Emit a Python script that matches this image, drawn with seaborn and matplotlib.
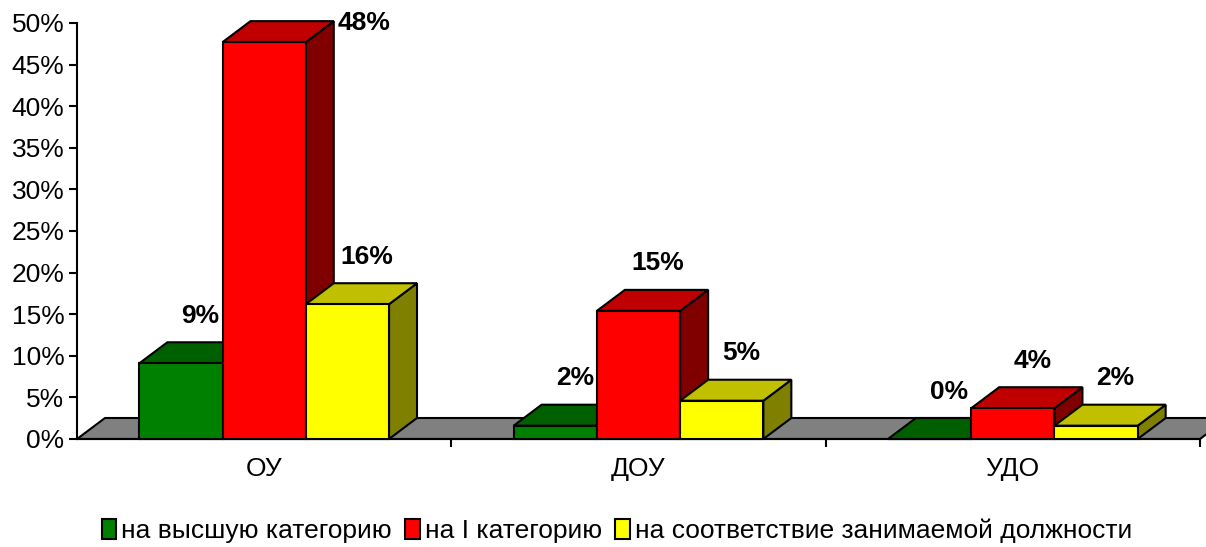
import matplotlib
matplotlib.use("Agg")
import matplotlib.pyplot as plt
import seaborn as sns
import pandas as pd
from matplotlib.patches import Polygon, Patch
from matplotlib.ticker import FuncFormatter, FixedLocator

# data
categories = ["ОУ", "ДОУ", "УДО"]
series = ["на высшую категорию", "на I категорию", "на соответствие занимаемой должности"]
vysshaya = [0.091, 0.016, 0.0]
pervaya = [0.477, 0.154, 0.037]
sootv = [0.162, 0.046, 0.016]

front_colors = ["#008000", "#FF0000", "#FFFF00"]
top_colors = ["#006000", "#C00000", "#C0C000"]
side_colors = ["#004000", "#800000", "#808000"]

rows = []
for s, vals in zip(series, [vysshaya, pervaya, sootv]):
    for c, v in zip(categories, vals):
        rows.append({"Категория": c, "Доля": v, "Серия": s})
df = pd.DataFrame(rows)

sns.set_style("white")
plt.rcParams["font.family"] = ["Liberation Sans", "DejaVu Sans"]
plt.rcParams["text.color"] = "black"
plt.rcParams["xtick.color"] = "black"
plt.rcParams["ytick.color"] = "black"
plt.rcParams["axes.labelcolor"] = "black"
FS = 19

fig = plt.figure(figsize=(12.06, 5.47), dpi=100)
ax = fig.add_axes([77 / 1206, 108 / 547, 1123 / 1206, 416 / 547])

sns.barplot(
    data=df, x="Категория", y="Доля", hue="Серия",
    order=categories, hue_order=series, palette=front_colors,
    saturation=1, width=0.667, edgecolor="black", linewidth=1.5,
    legend=False, ax=ax,
)
bars = list(ax.patches)

ax.set_xlim(-0.5, 2.5)
ax.set_ylim(0, 0.5)

# depth of the 3D effect in pixels -> data units
bbox = ax.get_window_extent()
dx = 28 / bbox.width * 3.0
dy = 21 / bbox.height * 0.5

# floor
floor = Polygon([(-0.5, 0), (2.5, 0), (2.5 + dx, dy), (-0.5 + dx, dy)],
                closed=True, facecolor="#808080", edgecolor="black",
                linewidth=1.5, zorder=1, clip_on=False)
ax.add_patch(floor)

# 3D faces, drawn left to right so later bars cover earlier ones
hue_of = {}
for i in range(len(series)):
    for j in range(len(categories)):
        hue_of[id(bars[i * len(categories) + j])] = i
bars_sorted = sorted(bars, key=lambda p: p.get_x())

for k, p in enumerate(bars_sorted):
    hi = hue_of[id(p)]
    x0 = p.get_x()
    x1 = x0 + p.get_width()
    h = p.get_height()
    z = 2 + k * 0.1
    p.set_zorder(z + 0.05)
    p.set_clip_on(False)
    side = Polygon([(x1, 0), (x1 + dx, dy), (x1 + dx, h + dy), (x1, h)],
                   closed=True, facecolor=side_colors[hi], edgecolor="black",
                   linewidth=1.5, zorder=z, clip_on=False)
    top = Polygon([(x0, h), (x1, h), (x1 + dx, h + dy), (x0 + dx, h + dy)],
                  closed=True, facecolor=top_colors[hi], edgecolor="black",
                  linewidth=1.5, zorder=z, clip_on=False)
    ax.add_patch(side)
    ax.add_patch(top)

    label = f"{h:.0%}"
    cx = (x0 + x1) / 2 + dx * 0.7
    if h + dy + 0.04 > 0.5:
        # no room above the plot top: put it beside the bar
        ax.annotate(label, xy=(x1 + dx, h + dy), xytext=(3, -1),
                    textcoords="offset points", ha="left", va="center",
                    fontsize=FS, fontweight="bold", zorder=10,
                    annotation_clip=False)
    else:
        ax.annotate(label, xy=(cx, h + dy), xytext=(0, 19),
                    textcoords="offset points", ha="center", va="center",
                    fontsize=FS, fontweight="bold", zorder=10,
                    annotation_clip=False)

# axes styling
for s in ["top", "right"]:
    ax.spines[s].set_visible(False)
for s in ["left", "bottom"]:
    ax.spines[s].set_color("black")
    ax.spines[s].set_linewidth(1.5)
    ax.spines[s].set_zorder(1.5)

ax.yaxis.set_major_locator(FixedLocator([i * 0.05 for i in range(11)]))
ax.yaxis.set_major_formatter(FuncFormatter(lambda v, _: f"{v:.0%}"))
ax.tick_params(axis="y", direction="out", length=6, width=1.5, labelsize=FS,
               pad=3, left=True, color="black")
ax.set_xticks([0, 1, 2])
ax.set_xticklabels(categories)
ax.xaxis.set_minor_locator(FixedLocator([0.5, 1.5, 2.5]))
ax.tick_params(axis="x", which="major", length=0, labelsize=FS, pad=13)
ax.tick_params(axis="x", which="minor", direction="out", length=6, width=1.5,
               bottom=True, color="black")
ax.set_xlabel("")
ax.set_ylabel("")
ax.grid(False)

handles = [Patch(facecolor=c, edgecolor="black", linewidth=1.5) for c in front_colors]
fig.legend(handles, series, loc="center", bbox_to_anchor=(617 / 1206, 1 - 531 / 547),
           ncol=3, frameon=False, fontsize=FS, handlelength=0.55, handleheight=0.75,
           handletextpad=0.2, columnspacing=0.5, borderaxespad=0)

fig.savefig("out.png", dpi=100)
